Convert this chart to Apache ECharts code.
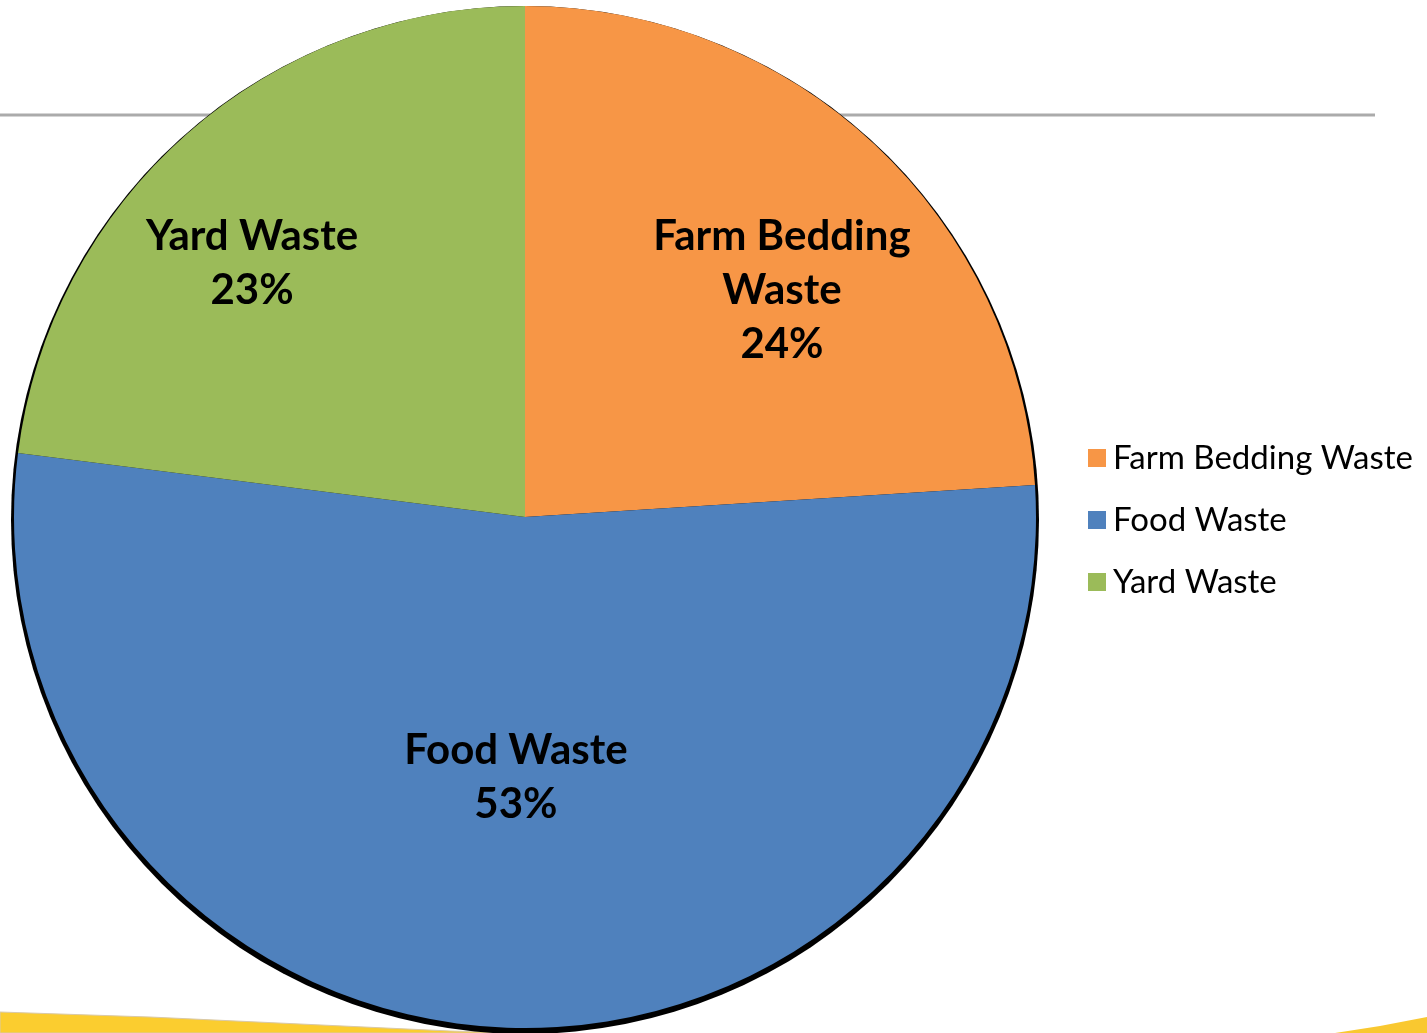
<!DOCTYPE html>
<html>
<head>
<meta charset="utf-8">
<script src="https://cdn.jsdelivr.net/npm/echarts@6/dist/echarts.min.js"></script>
<style>
html,body{margin:0;padding:0;background:#fff;}
#chart{width:1427px;height:1033px;}
</style>
</head>
<body>
<div id="chart"></div>
<script>
const categories = ['Farm Bedding Waste', 'Food Waste', 'Yard Waste'];
const sliceLabels = ['Farm Bedding\nWaste', 'Food Waste', 'Yard Waste'];
const values = [24, 53, 23];
const colors = ['#f79646', '#4f81bd', '#9bbb59'];

const labelShift = [[80, -38], [-1, 2], [-102, -60]];

const chart = echarts.init(document.getElementById('chart'));
chart.setOption({
  backgroundColor: '#ffffff',
  animation: false,
  graphic: [
    { type: 'line', z: 0, shape: { x1: 0, y1: 115, x2: 1375, y2: 115 }, style: { stroke: '#ababab', lineWidth: 3 } },
    { type: 'polygon', z: 0, shape: { points: [[0, 1012], [150, 1017], [300, 1024], [450, 1031], [520, 1033], [0, 1033]] }, style: { fill: '#fbcd2f', stroke: '#d9c9a8', lineWidth: 1 } },
    { type: 'polygon', z: 0, shape: { points: [[1335, 1033], [1380, 1026], [1427, 1017], [1427, 1033]] }, style: { fill: '#f9c830' } }
  ],
  legend: {
    orient: 'vertical',
    left: 1083,
    top: 435,
    icon: 'rect',
    itemWidth: 18,
    itemHeight: 18,
    itemGap: 26,
    data: categories,
    textStyle: { fontFamily: 'Lato', fontSize: 33, color: '#000', lineHeight: 36, padding: [0, 0, 0, 2] }
  },
  series: [
    {
      type: 'pie',
      silent: true,
      z: 1,
      center: [525, 520],
      radius: 514,
      startAngle: 90,
      label: { show: false },
      labelLine: { show: false },
      itemStyle: { color: '#000' },
      data: [{ value: 1, name: '' }],
      legendHoverLink: false
    },
    {
      type: 'pie',
      z: 2,
      center: [525, 517],
      radius: 511,
      startAngle: 90,
      clockwise: true,
      data: categories.map((c, i) => ({ name: c, value: values[i], itemStyle: { color: colors[i] } })),
      label: {
        show: true,
        position: 'inside',
        formatter: p => sliceLabels[p.dataIndex] + '\n' + p.percent.toFixed(0) + '%',
        fontFamily: 'Lato',
        fontWeight: 'bold',
        fontSize: 42,
        lineHeight: 54,
        color: '#000',
        align: 'center'
      },
      labelLayout: p => ({ dx: labelShift[p.dataIndex][0], dy: labelShift[p.dataIndex][1] }),
      labelLine: { show: false }
    }
  ]
});
</script>
</body>
</html>
